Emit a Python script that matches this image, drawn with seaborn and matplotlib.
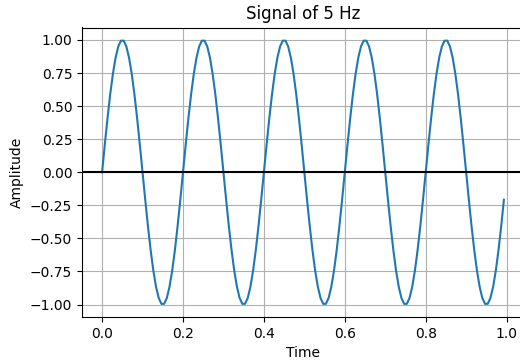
import numpy as np
import pandas as pd
import matplotlib
matplotlib.use("Agg")
import matplotlib.pyplot as plt
import seaborn as sns

# Sampled 5 Hz signal, 150 samples over one second (30 samples per cycle)
sample_rate = 150
time = np.arange(sample_rate) / sample_rate
amplitude = [
    0.000, 0.208, 0.407, 0.588, 0.743, 0.866, 0.951, 0.995, 0.995, 0.951, 0.866, 0.743, 0.588, 0.407, 0.208,
    0.000, -0.208, -0.407, -0.588, -0.743, -0.866, -0.951, -0.995, -0.995, -0.951, -0.866, -0.743, -0.588, -0.407, -0.208,
    0.000, 0.208, 0.407, 0.588, 0.743, 0.866, 0.951, 0.995, 0.995, 0.951, 0.866, 0.743, 0.588, 0.407, 0.208,
    0.000, -0.208, -0.407, -0.588, -0.743, -0.866, -0.951, -0.995, -0.995, -0.951, -0.866, -0.743, -0.588, -0.407, -0.208,
    0.000, 0.208, 0.407, 0.588, 0.743, 0.866, 0.951, 0.995, 0.995, 0.951, 0.866, 0.743, 0.588, 0.407, 0.208,
    0.000, -0.208, -0.407, -0.588, -0.743, -0.866, -0.951, -0.995, -0.995, -0.951, -0.866, -0.743, -0.588, -0.407, -0.208,
    0.000, 0.208, 0.407, 0.588, 0.743, 0.866, 0.951, 0.995, 0.995, 0.951, 0.866, 0.743, 0.588, 0.407, 0.208,
    0.000, -0.208, -0.407, -0.588, -0.743, -0.866, -0.951, -0.995, -0.995, -0.951, -0.866, -0.743, -0.588, -0.407, -0.208,
    0.000, 0.208, 0.407, 0.588, 0.743, 0.866, 0.951, 0.995, 0.995, 0.951, 0.866, 0.743, 0.588, 0.407, 0.208,
    0.000, -0.208, -0.407, -0.588, -0.743, -0.866, -0.951, -0.995, -0.995, -0.951, -0.866, -0.743, -0.588, -0.407, -0.208,
]

signal = pd.DataFrame({"Time": time, "Amplitude": amplitude})

plt.rcParams["font.family"] = ["DejaVu Sans"]

fig = plt.figure(figsize=(5.2, 3.62), dpi=100)
ax = fig.add_axes([82 / 520, 1 - 317 / 362, 442 / 520, 289.5 / 362])

sns.lineplot(data=signal, x="Time", y="Amplitude", ax=ax, color="#1f77b4", linewidth=1.5)
ax.axhline(0, color="black", linewidth=1.5)
ax.grid(True, color="#b0b0b0", linewidth=0.8)
ax.set_axisbelow(True)
ax.set_title("Signal of 5 Hz", fontsize=12)
ax.set_xlabel("Time", fontsize=10)
ax.set_ylabel("Amplitude", fontsize=10)

fig.savefig("out.png", dpi=100)
